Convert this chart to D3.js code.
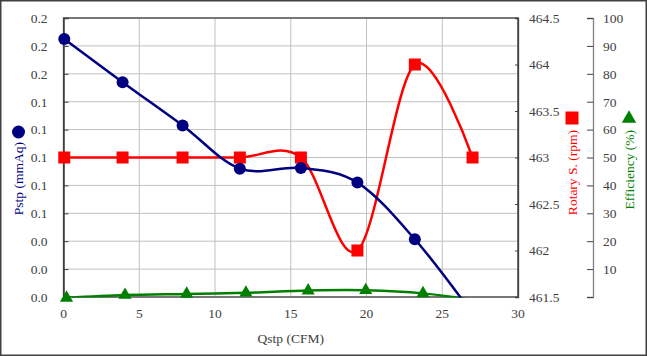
<!DOCTYPE html>
<html><head><meta charset="utf-8">
<script src="https://cdn.jsdelivr.net/npm/d3@7"></script>
<style>
html,body{margin:0;padding:0;background:#fff;}
svg{display:block;font-family:"Liberation Serif","Times New Roman",serif;}
</style></head>
<body>
<svg id="c" width="647" height="356"></svg>
<script>
// ---- data ----
const qstp    = [0.05, 3.9, 7.86, 11.64, 15.67, 19.4, 23.19, 27.0];
const pstp    = [0.185, 0.154, 0.123, 0.092, 0.0925, 0.082, 0.0414, -0.012];
const rpm     = [463, 463, 463, 463, 463, 462, 464, 463];
const qstpEff = [0.2, 4.06, 8.13, 12.04, 16.15, 19.95, 23.73, 27.6];
const eff     = [-0.3, 0.7, 1.1, 1.5, 2.3, 2.4, 1.3, -1.5];
const xTicks   = [0, 5, 10, 15, 20, 25, 30];
const pTicks   = [0, 0.02, 0.04, 0.06, 0.08, 0.1, 0.12, 0.14, 0.16, 0.18, 0.2];
const rpmTicks = [461.5, 462, 462.5, 463, 463.5, 464, 464.5];
const effTicks = [0, 10, 20, 30, 40, 50, 60, 70, 80, 90, 100];
const xTitle = "Qstp (CFM)", pTitle = "Pstp (mmAq)", rTitle = "Rotary S. (rpm)", eTitle = "Efficiency (%)";

// ---- layout ----
const L = 63.5, R = 518, T = 18, B = 297;
const fs = 13.5, txt = "#404040";
const cBlue = "#000080", cRed = "#ff0000", cGreen = "#008000";

const svg = d3.select("#c");
svg.append("rect").attr("x",0.75).attr("y",0.75).attr("width",645.5).attr("height",354.5)
   .attr("fill","#fff").attr("stroke","#404040").attr("stroke-width",1.5);

const x  = d3.scaleLinear().domain([0,30]).range([L,R]);
const yP = d3.scaleLinear().domain([0,0.2]).range([B,T]);
const yR = d3.scaleLinear().domain([461.5,464.5]).range([B,T]);
const yE = d3.scaleLinear().domain([0,100]).range([B,T]);

// grid
const g = svg.append("g");
g.selectAll(".hg").data(pTicks).join("line")
  .attr("x1",L).attr("x2",R).attr("y1",d=>yP(d)).attr("y2",d=>yP(d))
  .attr("stroke","#c0c0c0").attr("stroke-width",1);
g.selectAll(".vg").data(xTicks).join("line")
  .attr("y1",T).attr("y2",B).attr("x1",d=>x(d)).attr("x2",d=>x(d))
  .attr("stroke","#c0c0c0").attr("stroke-width",1);
g.append("rect").attr("x",L).attr("y",T).attr("width",R-L).attr("height",B-T)
  .attr("fill","none").attr("stroke","#404040").attr("stroke-width",1.3);

// left axis
const axL = d3.axisRight(yP).tickValues(pTicks).tickSize(5).tickFormat(d3.format(".1f"));
const gl = svg.append("g").attr("transform",`translate(${L},0)`).call(axL);
gl.select(".domain").attr("stroke","#404040").attr("stroke-width",1.5);
gl.selectAll(".tick line").attr("stroke","#404040");
gl.selectAll(".tick text").attr("x",-16).attr("text-anchor","end")
  .attr("font-size",fs).attr("fill",txt).attr("font-family","Liberation Serif");

// right axis (rpm)
const axR = d3.axisLeft(yR).tickValues(rpmTicks).tickSize(3).tickFormat(d=>String(d));
const gr = svg.append("g").attr("transform",`translate(${R},0)`).call(axR);
gr.select(".domain").attr("stroke","#404040").attr("stroke-width",1.3);
gr.selectAll(".tick line").attr("stroke","#404040");
gr.selectAll(".tick text").attr("x",11).attr("text-anchor","start")
  .attr("font-size",fs).attr("fill",txt).attr("font-family","Liberation Serif");

// third axis (efficiency)
const EX = 593;
const axE = d3.axisLeft(yE).tickValues(effTicks).tickSize(6).tickFormat(d=>d===0?"":String(d));
const ge = svg.append("g").attr("transform",`translate(${EX},0)`).call(axE);
ge.select(".domain").attr("stroke","#808080").attr("stroke-width",1.3);
ge.selectAll(".tick line").attr("stroke","#404040");
ge.selectAll(".tick text").attr("x",10).attr("text-anchor","start")
  .attr("font-size",fs).attr("fill",txt).attr("font-family","Liberation Serif");

// x labels
svg.append("g").selectAll("text").data(xTicks).join("text")
  .attr("x",d=>x(d)).attr("y",318).attr("text-anchor","middle")
  .attr("font-size",fs).attr("fill",txt).text(d=>d);
svg.append("text").attr("x",(L+R)/2).attr("y",343).attr("text-anchor","middle")
  .attr("font-size",fs).attr("fill",txt).text(xTitle);

// titles
function vTitle(cx, endY, color, label){
  svg.append("text").attr("transform",`translate(${cx},${endY}) rotate(-90)`)
    .attr("dy","0.35em").attr("text-anchor","end")
    .attr("font-size",fs).attr("fill",color).text(label);
}
vTitle(18.5, 142, cBlue, pTitle);
svg.append("circle").attr("cx",18.5).attr("cy",132).attr("r",6.5).attr("fill",cBlue);
vTitle(572, 130, cRed, rTitle);
svg.append("rect").attr("x",565.5).attr("y",111.5).attr("width",13).attr("height",13).attr("fill",cRed);
vTitle(629, 130, cGreen, eTitle);
svg.append("path").attr("d",d3.symbol(d3.symbolTriangle,90)()).attr("transform","translate(629,118.5)").attr("fill",cGreen);

// clip
svg.append("clipPath").attr("id","pc").append("rect")
  .attr("x",L).attr("y",T).attr("width",R-L).attr("height",B-T+0.5);

const curve = d3.curveCardinal.tension(0);
const pData = qstp.map((q,i)=>({x:q, y:pstp[i]}));
const rData = qstp.map((q,i)=>({x:q, y:rpm[i]}));
const eData = qstpEff.map((q,i)=>({x:q, y:eff[i]}));

const plot = svg.append("g");
const lines = plot.append("g").attr("clip-path","url(#pc)");
lines.append("path").datum(eData).attr("fill","none").attr("stroke",cGreen).attr("stroke-width",2.5)
  .attr("d",d3.line().x(d=>x(d.x)).y(d=>yE(d.y)).curve(curve));
lines.append("path").datum(rData).attr("fill","none").attr("stroke",cRed).attr("stroke-width",2.5)
  .attr("d",d3.line().x(d=>x(d.x)).y(d=>yR(d.y)).curve(curve));
lines.append("path").datum(pData).attr("fill","none").attr("stroke",cBlue).attr("stroke-width",2.5)
  .attr("d",d3.line().x(d=>x(d.x)).y(d=>yP(d.y)).curve(curve));

// markers (only those inside the plot area)
plot.selectAll(".tri").data(eData.filter(d=>yE(d.y)<=B+2)).join("path")
  .attr("d",d3.symbol(d3.symbolTriangle,75)())
  .attr("transform",d=>`translate(${x(d.x)},${yE(d.y)})`).attr("fill",cGreen);
plot.selectAll(".sq").data(rData.filter(d=>yR(d.y)<=B)).join("rect")
  .attr("x",d=>x(d.x)-6).attr("y",d=>yR(d.y)-6).attr("width",12).attr("height",12).attr("fill",cRed);
plot.selectAll(".dot").data(pData.filter(d=>yP(d.y)<=B)).join("circle")
  .attr("cx",d=>x(d.x)).attr("cy",d=>yP(d.y)).attr("r",6).attr("fill",cBlue);
</script>
</body></html>
